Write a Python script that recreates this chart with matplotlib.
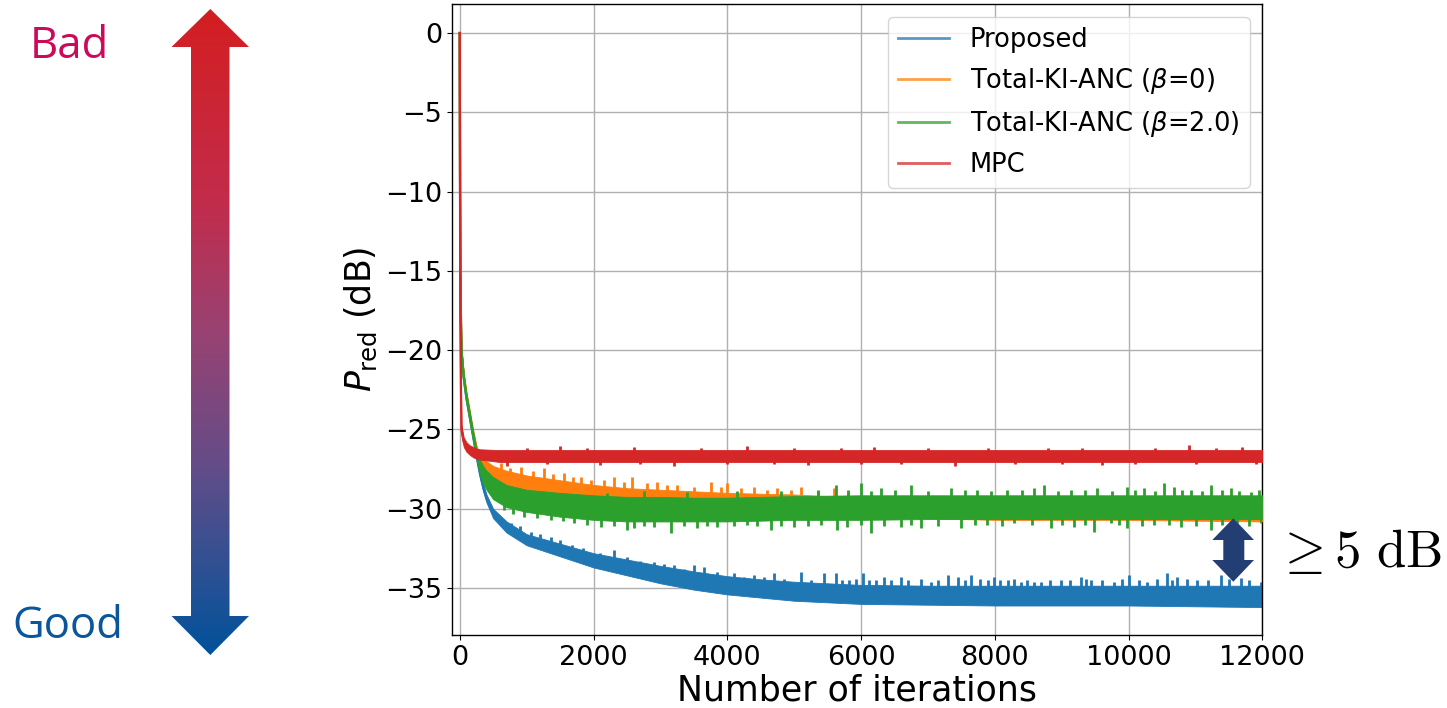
import numpy as np
import matplotlib
matplotlib.use("Agg")
import matplotlib.pyplot as plt
from matplotlib.patches import Polygon
from matplotlib.lines import Line2D

# ---------------- data ----------------
labels = ["Proposed", r"Total-KI-ANC ($\beta$=0)", r"Total-KI-ANC ($\beta$=2.0)", "MPC"]
colors = ["#1f77b4", "#ff7f0e", "#2ca02c", "#d62728"]

x_knots = [0, 8, 25, 60, 100, 150, 200, 250, 300, 350, 400, 500, 700, 1000, 1500,
           2000, 2500, 3000, 3500, 4000, 4500, 5000, 6000, 7000, 8000, 10000, 12000]

blue_hi = [0, -14.5, -19.8, -21.5, -22.8, -24.0, -25.2, -26.4, -27.5, -28.4, -29.1, -30.0, -30.8, -31.6, -32.2,
           -32.8, -33.2, -33.6, -33.95, -34.25, -34.45, -34.6, -34.8, -34.85, -34.85, -34.85, -34.85]
blue_lo = [0, -15.0, -20.3, -22.0, -23.3, -24.5, -25.7, -26.9, -28.0, -28.9, -29.6, -30.6, -31.5, -32.3, -33.0,
           -33.7, -34.2, -34.7, -35.1, -35.4, -35.6, -35.8, -36.0, -36.05, -36.1, -36.1, -36.2]

orange_hi = [0, -14.5, -19.8, -21.4, -22.6, -23.8, -25.0, -26.0, -26.6, -26.9, -27.0, -27.3, -27.6, -27.9, -28.2,
             -28.5, -28.7, -28.8, -28.9, -29.0, -29.05, -29.1, -29.3, -29.35, -29.35, -29.4, -29.4]
orange_lo = [0, -15.0, -20.3, -21.9, -23.1, -24.3, -25.5, -26.6, -27.5, -28.0, -28.3, -28.8, -29.2, -29.5, -29.7,
             -29.9, -30.0, -30.1, -30.2, -30.3, -30.3, -30.4, -30.5, -30.6, -30.7, -30.7, -30.8]

green_hi = [0, -14.5, -19.8, -21.5, -22.7, -23.9, -25.1, -26.2, -26.9, -27.3, -27.6, -28.0, -28.5, -28.8, -29.0,
            -29.15, -29.25, -29.25, -29.3, -29.3, -29.25, -29.2, -29.15, -29.15, -29.15, -29.15, -29.15]
green_lo = [0, -15.0, -20.3, -22.0, -23.2, -24.4, -25.6, -26.8, -27.8, -28.4, -28.8, -29.4, -29.9, -30.2, -30.5,
            -30.7, -30.8, -30.8, -30.8, -30.8, -30.75, -30.7, -30.7, -30.65, -30.65, -30.65, -30.65]

red_x = [0, 8, 25, 60, 100, 150, 200, 250, 300, 600, 12000]
red_hi = [0, -18.0, -24.7, -25.5, -25.8, -26.0, -26.1, -26.2, -26.25, -26.3, -26.3]
red_lo = [0, -18.5, -25.3, -26.1, -26.4, -26.6, -26.75, -26.85, -26.9, -27.05, -27.05]

# noise spikes (iteration, peak value in dB)
blue_spike_x = [760, 900, 1061, 1200, 1360, 1500, 1684, 1850, 2100, 2306, 2506, 2700, 2904, 3050, 3203, 3350,
                3502, 3652, 3850, 4100, 4250, 4399, 4550, 4698, 4850, 5097, 5250, 5445, 5620, 5720, 5815, 5920,
                6024, 6120, 6218, 6338, 6450, 6592, 6700, 6900, 7040, 7150, 7294, 7444, 7550, 7638, 7780, 7892,
                7982, 8080, 8191, 8290, 8386, 8480, 8580, 8685, 8830, 8984, 9130, 9283, 9360, 9432, 9600, 9781,
                9900, 10005, 10150, 10280, 10420, 10579, 10650, 10728, 10880, 11027, 11180, 11375, 11500, 11674,
                11800, 11973]
blue_spike_y = [-30.9, -31.1, -31.44, -31.6, -31.76, -32.0, -32.28, -32.5, -32.8, -32.6, -33.02, -33.3, -33.34,
                -33.5, -33.54, -33.8, -33.54, -33.65, -34.0, -34.07, -34.3, -34.17, -34.3, -34.07, -34.4, -33.96,
                -34.5, -34.07, -34.07, -34.5, -34.49, -34.4, -34.07, -34.5, -34.49, -34.28, -34.5, -34.28, -34.5,
                -34.4, -34.6, -34.5, -34.17, -34.28, -34.5, -34.17, -34.4, -34.49, -34.28, -34.5, -34.49, -34.4,
                -34.6, -34.5, -34.6, -34.6, -34.5, -34.49, -34.5, -34.28, -34.4, -34.49, -34.5, -34.6, -34.4,
                -34.17, -34.5, -34.6, -34.4, -34.07, -34.5, -34.28, -34.4, -34.49, -34.5, -34.17, -34.4, -34.38,
                -34.5, -34.6]

orange_spike_x = [613, 750, 912, 1100, 1260, 1400, 1559, 1700, 1809, 1958, 2150, 2306, 2450, 2581, 2800, 2955,
                  3100, 3254, 3500, 3752, 3900, 4001, 4200, 4399, 4600, 4748, 4950, 5097, 5350, 5595, 5800]
orange_spike_y = [-27.13, -27.4, -27.35, -27.6, -27.45, -27.8, -27.76, -28.0, -27.97, -28.18, -28.2, -27.97,
                  -28.3, -27.97, -28.4, -28.29, -28.5, -28.5, -28.6, -28.29, -28.6, -28.39, -28.7, -28.6, -28.8,
                  -28.71, -28.8, -28.6, -28.9, -28.71, -29.0]

green_up_x = [2200, 2750, 3400, 4150, 4800, 5350, 5620, 5800, 5994, 6150, 6293, 6500, 6741, 7000, 7339, 7550,
              7738, 7950, 8187, 8400, 8585, 8734, 8950, 9133, 9350, 9532, 9750, 9980, 10100, 10229, 10400, 10528,
              10677, 10800, 10927, 11100, 11226, 11400, 11525, 11650, 11824, 11950]
green_up_y = [-29.0, -28.9, -28.95, -28.9, -28.9, -28.8, -28.5, -28.8, -28.39, -28.9, -28.71, -28.8, -28.5,
              -28.9, -28.71, -28.8, -28.81, -28.9, -28.81, -28.8, -28.71, -28.5, -28.9, -28.81, -28.8, -28.71,
              -28.9, -28.6, -28.8, -28.71, -28.9, -28.39, -28.6, -28.8, -28.81, -28.9, -28.5, -28.8, -28.71,
              -28.9, -28.92, -28.8]
green_dn_x = [662, 800, 961, 1150, 1360, 1550, 1709, 1900, 2108, 2300, 2506, 2606, 2750, 2904, 3154, 3350, 3553,
              3700, 3852, 4100, 4300, 4450, 4649, 4800, 4998, 5200, 5396, 5646, 5795, 6000, 6143, 6350, 6592,
              6750, 6891, 7150, 7489, 7700, 7888, 8100, 8286, 8550, 8834, 9000, 9183, 9350, 9482, 9731, 9850,
              9980, 10200, 10378, 10600, 10777, 11000, 11226, 11400, 11625, 11800, 11973]
green_dn_y = [-30.08, -30.3, -30.5, -30.6, -30.71, -30.8, -30.91, -31.0, -31.13, -31.1, -31.34, -31.23, -31.1,
              -31.13, -31.55, -31.1, -31.23, -31.1, -31.13, -31.1, -31.02, -31.1, -31.34, -31.1, -31.13, -31.1,
              -31.02, -31.34, -31.13, -31.0, -31.55, -31.1, -31.13, -31.0, -31.23, -31.1, -31.23, -31.0, -31.02,
              -31.1, -30.91, -31.0, -31.23, -31.0, -31.13, -31.0, -31.44, -30.91, -31.0, -31.23, -31.1, -31.02,
              -31.0, -31.13, -31.1, -31.34, -31.0, -30.91, -31.1, -30.91]

red_up_x = [1000, 1500, 1900, 2600, 3600, 4300, 5000, 5700, 6200, 7000, 7900, 8800, 9300, 10400, 10900, 11300, 11700]
red_up_y = [-26.15, -26.05, -26.15, -26.1, -26.15, -26.05, -26.15, -26.15, -26.1, -26.15, -26.15, -26.15,
            -26.15, -26.15, -26.0, -26.15, -26.1]
red_dn_x = [700, 1300, 2100, 2700, 3200, 4000, 4700, 5200, 6000, 6600, 7400, 8300, 9000, 9600, 10100, 11000, 11900]
red_dn_y = [-27.3, -27.2, -27.25, -27.2, -27.3, -27.2, -27.2, -27.25, -27.2, -27.2, -27.3, -27.2, -27.2,
            -27.25, -27.2, -27.2, -27.2]

xticks = [0, 2000, 4000, 6000, 8000, 10000, 12000]
yticks = [0, -5, -10, -15, -20, -25, -30, -35]

# ---------------- figure ----------------
W, H = 1447, 708
fig = plt.figure(figsize=(W / 100, H / 100), dpi=100)
ax = fig.add_axes([451.7 / W, 1 - 635 / H, (1262.4 - 451.7) / W, (635 - 4) / H])

def band(x, hi, lo, color, z):
    x = np.asarray(x, float); hi = np.asarray(hi, float); lo = np.asarray(lo, float)
    ax.fill_between(x, lo, hi, color=color, lw=0.6, edgecolor=color, zorder=z)
    ax.plot(x, (hi + lo) / 2, color=color, lw=1.6, zorder=z)

def spikes(sx, sy, x, hi, lo, color, z):
    base = np.interp(sx, x, (np.asarray(hi) + np.asarray(lo)) / 2)
    ax.vlines(sx, base, sy, color=color, lw=2.0, zorder=z)

band(x_knots, blue_hi, blue_lo, colors[0], 2)
spikes(blue_spike_x, blue_spike_y, x_knots, blue_hi, blue_lo, colors[0], 2)
band(x_knots, orange_hi, orange_lo, colors[1], 3)
spikes(orange_spike_x, orange_spike_y, x_knots, orange_hi, orange_lo, colors[1], 3)
band(x_knots, green_hi, green_lo, colors[2], 4)
spikes(green_up_x, green_up_y, x_knots, green_hi, green_lo, colors[2], 4)
spikes(green_dn_x, green_dn_y, x_knots, green_hi, green_lo, colors[2], 4)
band(red_x, red_hi, red_lo, colors[3], 5)
spikes(red_up_x, red_up_y, red_x, red_hi, red_lo, colors[3], 5)
spikes(red_dn_x, red_dn_y, red_x, red_hi, red_lo, colors[3], 5)

ax.set_xlim(-120, 12000)
ax.set_ylim(-37.96, 1.83)
ax.set_xticks(xticks)
ax.set_yticks(yticks)
ax.tick_params(labelsize=19.5)
ax.grid(True, color="#b0b0b0", lw=1.0)
ax.set_axisbelow(True)
for s in ax.spines.values():
    s.set_linewidth(1.0)
ax.set_xlabel("Number of iterations", fontsize=25, labelpad=2)
ax.set_ylabel(r"$P_{\mathrm{red}}$ (dB)", fontsize=25)

handles = [Line2D([], [], color=c, lw=2, alpha=0.75) for c in colors]
ax.legend(handles, labels, loc="upper right", fontsize=18.5)

# ---------------- overlay annotations (pixel coordinates) ----------------
ov = fig.add_axes([0, 0, 1, 1], zorder=10)
ov.set_xlim(0, W)
ov.set_ylim(H, 0)
ov.axis("off")
ov.patch.set_alpha(0)

# gradient double arrow
cx = 210.3
arrow_pts = [(cx, 9), (249, 47), (229.5, 47), (229.5, 616), (249, 616), (cx, 655),
             (171.5, 616), (191, 616), (191, 47), (171.5, 47)]
poly = Polygon(arrow_pts, closed=True, facecolor="none", edgecolor="none")
ov.add_patch(poly)
stops = np.array([0.0, 0.3, 0.5, 0.7, 0.85, 1.0])
stop_cols = np.array([[212, 30, 32], [194, 44, 76], [152, 66, 114], [102, 76, 136],
                      [52, 80, 146], [0, 82, 155]]) / 255.0
t = np.linspace(0, 1, 400)
grad = np.stack([np.interp(t, stops, stop_cols[:, k]) for k in range(3)], axis=1)[:, None, :]
im = ov.imshow(grad, extent=[171, 250, 655, 9], aspect="auto", interpolation="bilinear", zorder=1)
im.set_clip_path(poly)

ov.text(30, 58, "Bad", fontsize=31.5, family="Open Sans", color="#cc0a58", ha="left", va="baseline")
ov.text(12, 638, "Good", fontsize=31.5, family="Open Sans", color="#0a559b", ha="left", va="baseline")

# dark double arrow for the gap
dx = 1233.3
gap_pts = [(dx, 518.3), (1254, 540), (1244.3, 540), (1244.3, 560), (1254, 560), (dx, 581.7),
           (1212.3, 560), (1223.3, 560), (1223.3, 540), (1212.3, 540)]
ov.add_patch(Polygon(gap_pts, closed=True, facecolor="#223e72", edgecolor="none", zorder=2))

ov.text(1275, 567, r"$\geq 5\ \mathrm{dB}$", fontsize=38, color="black", ha="left", va="baseline",
        math_fontfamily="cm")

fig.savefig("out.png", dpi=100)
